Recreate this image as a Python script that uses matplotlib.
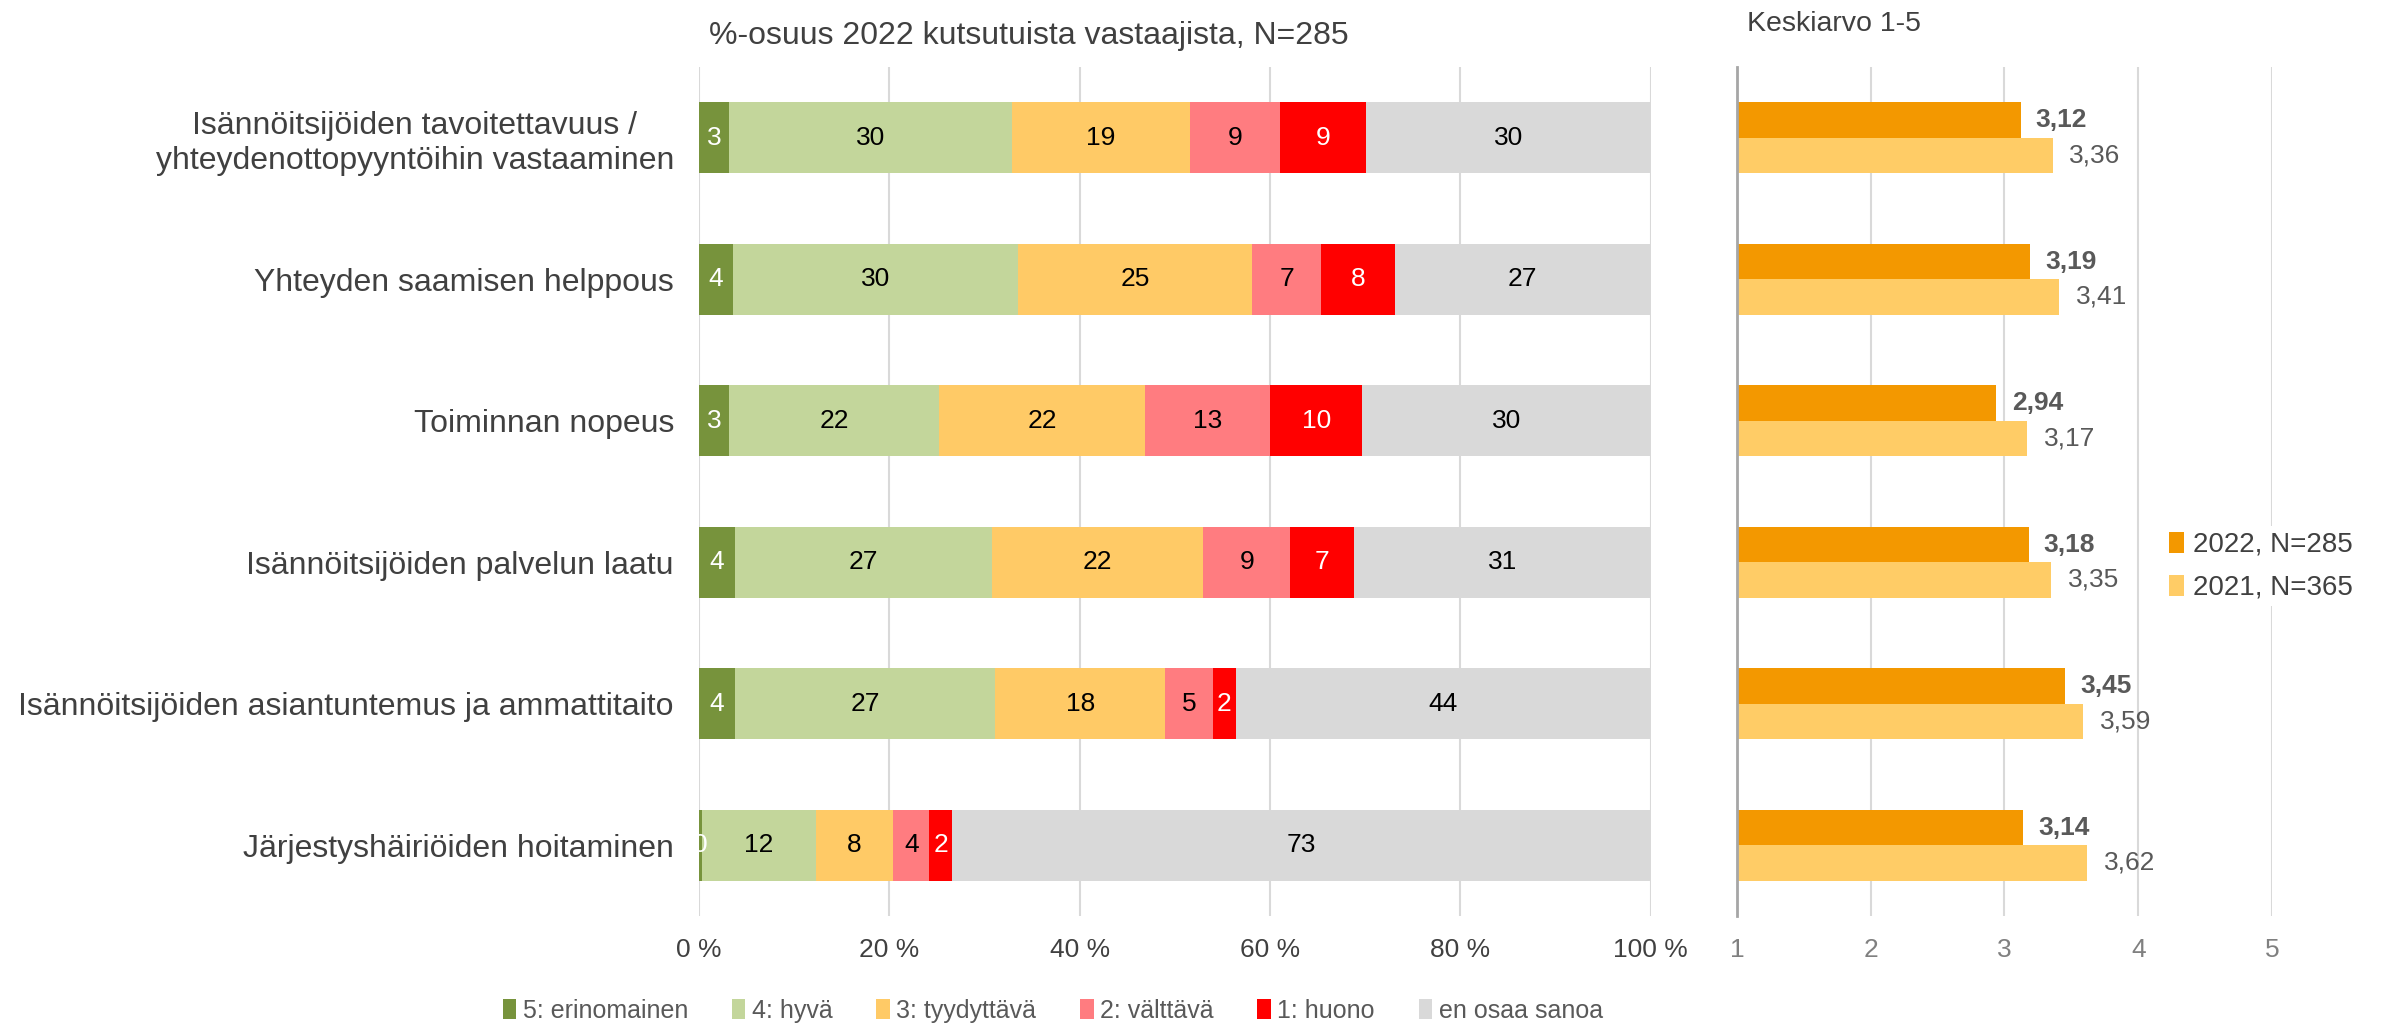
import matplotlib.pyplot as plt
import numpy as np

plt.rcParams['font.family'] = ['Liberation Sans', 'DejaVu Sans']

categories = ['Isännöitsijöiden tavoitettavuus /\nyhteydenottopyyntöihin vastaaminen',
              'Yhteyden saamisen helppous',
              'Toiminnan nopeus',
              'Isännöitsijöiden palvelun laatu',
              'Isännöitsijöiden asiantuntemus ja ammattitaito',
              'Järjestyshäiriöiden hoitaminen']

# percentage shares 2022 (segment order 5 -> 1 -> en osaa sanoa)
v5 = [3.2, 3.6, 3.2, 3.8, 3.8, 0.3]
v4 = [29.7, 29.9, 22.0, 27.0, 27.3, 12.0]
v3 = [18.7, 24.6, 21.7, 22.2, 17.9, 8.1]
v2 = [9.4, 7.3, 13.1, 9.1, 5.0, 3.8]
v1 = [9.1, 7.7, 9.7, 6.7, 2.4, 2.4]
veos = [29.9, 26.9, 30.2, 31.2, 43.6, 73.4]
seg_names = ['5: erinomainen', '4: hyvä', '3: tyydyttävä', '2: välttävä', '1: huono', 'en osaa sanoa']
seg_colors = ['#77933C', '#C3D69B', '#FFCA66', '#FF7C80', '#FF0000', '#D9D9D9']
seg_text = ['white', 'black', 'black', 'black', 'white', 'black']

# means 1-5
mean_2022 = [3.12, 3.19, 2.94, 3.18, 3.45, 3.14]
mean_2021 = [3.36, 3.41, 3.17, 3.35, 3.59, 3.62]

fig = plt.figure(figsize=(23.87, 10.24), dpi=100)
ax = fig.add_axes([0.2928, 0.1055, 0.3988, 0.829])
ax2 = fig.add_axes([0.7277, 0.1055, 0.2241, 0.829])

y = np.arange(len(categories))
left = np.zeros(len(categories))
for vals, name, col, tc in zip([v5, v4, v3, v2, v1, veos], seg_names, seg_colors, seg_text):
    bars = ax.barh(y, vals, left=left, height=0.5, color=col, label=name, zorder=2)
    ax.bar_label(bars, labels=['%d' % round(v) for v in vals], label_type='center',
                 color=tc, fontsize=19)
    left += np.array(vals)

ax.set_xlim(0, 100)
ax.set_ylim(len(categories) - 0.5, -0.5)
ax.set_xticks(np.arange(0, 101, 20))
ax.set_xticklabels(['%d %%' % t for t in range(0, 101, 20)])
ax.set_yticks(y)
ax.set_yticklabels(categories, fontsize=23, color='#404040', multialignment='center')
ax.tick_params(axis='both', length=0)
ax.tick_params(axis='x', labelsize=19, labelcolor='#404040', pad=16)
ax.tick_params(axis='y', pad=18)
ax.grid(axis='x', color='#D9D9D9', lw=1.5, zorder=0)
ax.set_axisbelow(True)
for s in ax.spines.values():
    s.set_visible(False)

fig.legend(*ax.get_legend_handles_labels(), loc='center', bbox_to_anchor=(0.441, 0.013),
           ncol=6, frameon=False, fontsize=18, handlelength=0.55, handleheight=0.8,
           handletextpad=0.25, columnspacing=1.75, labelcolor='#595959')

# right panel
b1 = ax2.barh(y - 0.125, np.array(mean_2022) - 1, left=1, height=0.25, color='#F39800',
              label='2022, N=285', zorder=2)
b2 = ax2.barh(y + 0.125, np.array(mean_2021) - 1, left=1, height=0.25, color='#FFCC66',
              label='2021, N=365', zorder=2)
for i in range(len(categories)):
    ax2.annotate(('%.2f' % mean_2022[i]).replace('.', ','), (mean_2022[i], y[i] - 0.125),
                 xytext=(11, 0), textcoords='offset points', va='center', ha='left',
                 fontsize=19, fontweight='bold', color='#595959')
    ax2.annotate(('%.2f' % mean_2021[i]).replace('.', ','), (mean_2021[i], y[i] + 0.125),
                 xytext=(12, 0), textcoords='offset points', va='center', ha='left',
                 fontsize=19, color='#595959')
ax2.set_xlim(1, 5)
ax2.set_ylim(len(categories) - 0.5, -0.5)
ax2.set_xticks([1, 2, 3, 4, 5])
ax2.set_yticks([])
ax2.tick_params(axis='x', length=0, labelsize=19, labelcolor='#808080', pad=16)
ax2.grid(axis='x', color='#D9D9D9', lw=1.5, zorder=0)
ax2.set_axisbelow(True)
for k, s in ax2.spines.items():
    s.set_visible(k == 'left')
ax2.spines['left'].set_color('#A6A6A6')
ax2.spines['left'].set_linewidth(2)

leg = fig.legend(handles=[b1, b2], loc='center left', bbox_to_anchor=(0.9005, 0.447),
                 frameon=True, fontsize=20, handlelength=0.55, handleheight=0.8,
                 handletextpad=0.3, labelspacing=0.6, labelcolor='#404040', borderpad=0.2)
leg.get_frame().set_edgecolor('none')
leg.get_frame().set_facecolor('white')
leg.get_frame().set_alpha(1)

fig.text(0.431, 0.965, '%-osuus 2022 kutsutuista vastaajista, N=285', ha='center', va='center',
         fontsize=23, color='#404040')
fig.text(0.732, 0.977, 'Keskiarvo 1-5', ha='left', va='center', fontsize=20.5, color='#404040')

fig.savefig('out.png', dpi=100, facecolor='white')
